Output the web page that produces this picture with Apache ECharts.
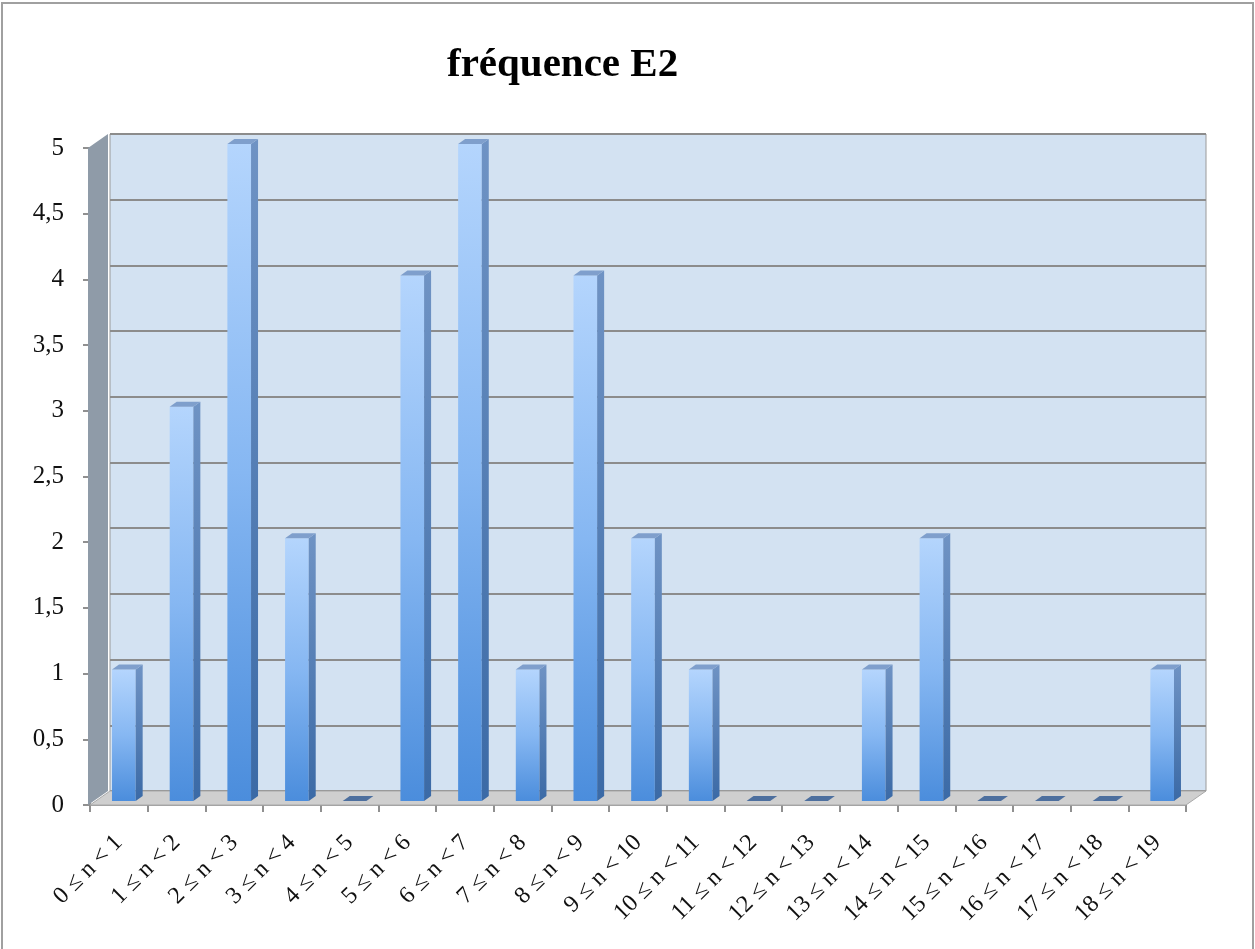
<!DOCTYPE html>
<html>
<head>
<meta charset="utf-8">
<title>fréquence E2</title>
<script src="https://cdn.jsdelivr.net/npm/echarts@6/dist/echarts.min.js"></script>
<style>
  html, body { margin: 0; padding: 0; background: #fff; }
  #chart { width: 1255px; height: 949px; }
  #frame {
    position: absolute; left: 1px; top: 2px; width: 1249px; height: 960px;
    border: 2px solid #a0a0a0; pointer-events: none;
  }
</style>
</head>
<body>
<div id="chart"></div>
<div id="frame"></div>
<script>
// catégories et fréquences
const categories = [
  "0 ≤ n < 1", "1 ≤ n < 2", "2 ≤ n < 3", "3 ≤ n < 4", "4 ≤ n < 5",
  "5 ≤ n < 6", "6 ≤ n < 7", "7 ≤ n < 8", "8 ≤ n < 9", "9 ≤ n < 10",
  "10 ≤ n < 11", "11 ≤ n < 12", "12 ≤ n < 13", "13 ≤ n < 14", "14 ≤ n < 15",
  "15 ≤ n < 16", "16 ≤ n < 17", "17 ≤ n < 18", "18 ≤ n < 19"
];
const frequences = [1, 3, 5, 2, 0, 4, 5, 1, 4, 2, 1, 0, 0, 1, 2, 0, 0, 0, 1];
const yTicks = { min: 0, max: 5, interval: 0.5 };

// profondeur du "3D"
const DEPTH_X = 20, DEPTH_Y = -14;
const BAR_OFF_X = 5, BAR_OFF_Y = -4;
const BAR_SIDE_X = 7, BAR_SIDE_Y = -5;

const chart = echarts.init(document.getElementById("chart"));

const serif = "'Liberation Serif', 'DejaVu Serif', serif";
const fmt = v => String(v).replace(".", ",");

// murs (gauche + sol), calculés depuis la grille
function renderWalls(params, api) {
  const cs = params.coordSys;
  const x = cs.x, y = cs.y, w = cs.width, h = cs.height;
  return {
    type: "group",
    children: [
      {
        type: "polygon",
        shape: { points: [[x - 2, y], [x + DEPTH_X - 2, y + DEPTH_Y], [x + DEPTH_X - 2, y + h + DEPTH_Y], [x - 2, y + h]] },
        style: { fill: "#8f9ba8" }
      },
      {
        type: "polygon",
        shape: { points: [[x, y + h], [x + w, y + h], [x + w + DEPTH_X, y + h + DEPTH_Y], [x + DEPTH_X, y + h + DEPTH_Y]] },
        style: { fill: "#cfcfcf", stroke: "#a8a8a8", lineWidth: 1 }
      }
    ]
  };
}

function renderBar(params, api) {
  const i = api.value(0);
  const v = api.value(1);
  const p0 = api.coord([i, 0]);
  const p1 = api.coord([i, v]);
  const band = api.size([1, 0])[0];
  const w = band * 0.41;
  const xl = p0[0] + BAR_OFF_X - w / 2;
  const xr = xl + w;
  const bottom = p0[1] + BAR_OFF_Y;
  const top = p1[1] + BAR_OFF_Y;
  if (v === 0) {
    return {
      type: "polygon",
      shape: { points: [[xl, bottom], [xl + BAR_SIDE_X, bottom + BAR_SIDE_Y], [xr + BAR_SIDE_X, bottom + BAR_SIDE_Y], [xr, bottom]] },
      style: { fill: "#4d6f9e" }
    };
  }
  return {
    type: "group",
    children: [
      {
        type: "rect",
        shape: { x: xl, y: top, width: w, height: bottom - top },
        style: {
          fill: new echarts.graphic.LinearGradient(0, 0, 0, 1, [
            { offset: 0, color: "#b4d5fd" },
            { offset: 0.5, color: "#86b7f2" },
            { offset: 1, color: "#4b8ddc" }
          ])
        }
      },
      {
        type: "polygon",
        shape: { points: [[xr, top], [xr + BAR_SIDE_X, top + BAR_SIDE_Y], [xr + BAR_SIDE_X, bottom + BAR_SIDE_Y], [xr, bottom]] },
        style: {
          fill: new echarts.graphic.LinearGradient(0, 0, 0, 1, [
            { offset: 0, color: "#6f93c4" },
            { offset: 1, color: "#3b6aa6" }
          ])
        }
      },
      {
        type: "polygon",
        shape: { points: [[xl, top], [xl + BAR_SIDE_X, top + BAR_SIDE_Y], [xr + BAR_SIDE_X, top + BAR_SIDE_Y], [xr, top]] },
        style: { fill: "#7f9fcc" }
      }
    ]
  };
}

const option = {
  animation: false,
  title: {
    text: "fréquence E2",
    left: 442,
    top: 40,
    textStyle: { fontFamily: serif, fontWeight: "bold", fontSize: 41, color: "#000" }
  },
  grid: [
    // plan avant (axes)
    { left: 90, right: 69, top: 148, bottom: 144 },
    // mur du fond
    {
      left: 90 + DEPTH_X, right: 69 - DEPTH_X, top: 148 + DEPTH_Y, bottom: 144 - DEPTH_Y,
      show: true, backgroundColor: "#d3e2f2", borderColor: "#9a9a9a", borderWidth: 1
    }
  ],
  xAxis: [
    {
      type: "category",
      gridIndex: 0,
      data: categories,
      axisLine: { show: true, lineStyle: { color: "#a0a0a0", width: 2 } },
      axisTick: { show: true, length: 7, lineStyle: { color: "#909090", width: 2 } },
      axisLabel: {
        rotate: 45, margin: 34, interval: 0,
        fontFamily: serif, fontSize: 24, color: "#111"
      },
      splitLine: { show: false }
    },
    {
      type: "category",
      gridIndex: 1,
      data: categories,
      show: false
    }
  ],
  yAxis: [
    {
      type: "value",
      gridIndex: 0,
      min: yTicks.min, max: yTicks.max, interval: yTicks.interval,
      axisLine: { show: true, lineStyle: { color: "#909090", width: 2 } },
      axisTick: { show: true, length: 7, lineStyle: { color: "#909090", width: 2 } },
      axisLabel: { margin: 26, fontFamily: serif, fontSize: 25, color: "#111", formatter: fmt },
      splitLine: { show: false }
    },
    {
      type: "value",
      gridIndex: 1,
      min: yTicks.min, max: yTicks.max, interval: yTicks.interval,
      axisLine: { show: false },
      axisTick: { show: false },
      axisLabel: { show: false },
      splitLine: { show: true, lineStyle: { color: "#8c8c8c", width: 2 } }
    }
  ],
  series: [
    {
      name: "murs",
      type: "custom",
      xAxisIndex: 0,
      yAxisIndex: 0,
      z: 1,
      silent: true,
      data: [[0, 0]],
      renderItem: renderWalls
    },
    {
      name: "fréquence E2",
      type: "custom",
      xAxisIndex: 0,
      yAxisIndex: 0,
      z: 3,
      data: frequences.map((v, i) => [i, v]),
      encode: { x: 0, y: 1 },
      renderItem: renderBar
    }
  ]
};

chart.setOption(option);
window.addEventListener("resize", () => {
  if (chart) chart.resize();
});
</script>
</body>
</html>
